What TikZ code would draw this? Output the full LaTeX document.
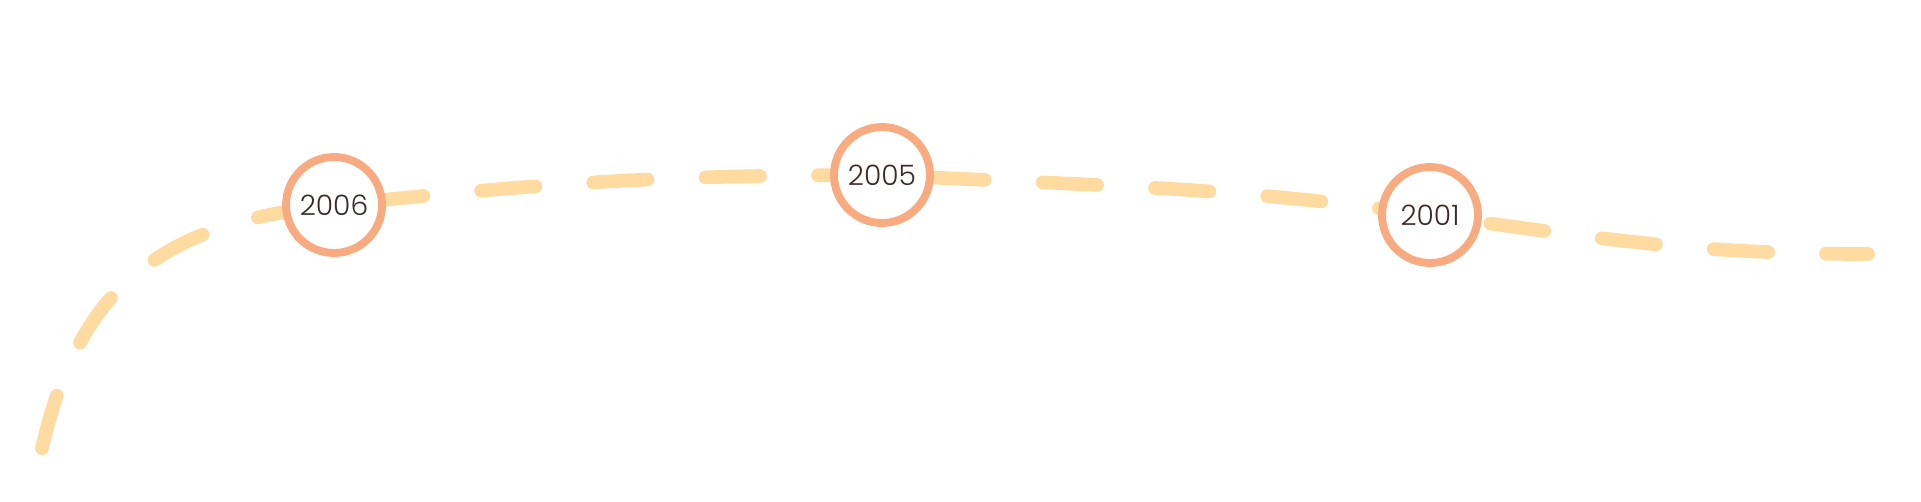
\documentclass[tikz,border=0pt]{standalone}
\usepackage{fontspec}
\setmainfont{Poppins Light}
\usepackage{xcolor}
\definecolor{peach}{HTML}{FFDBA1}
\definecolor{salmon}{HTML}{F8AB80}
\definecolor{cocoa}{HTML}{3B2A28}
\usetikzlibrary{backgrounds}

\begin{document}
\begin{tikzpicture}[x=0.02cm, y=0.02cm,
  trail/.style={draw=peach, line width=7.8pt, line cap=round,
    dash pattern=on 31pt off 33pt, dash phase=31pt},
  yearnode/.style={circle, draw=salmon, fill=white, line width=4.5pt, minimum size=1.92cm,
    inner sep=0pt, text=cocoa, font=\fontsize{16}{16}\selectfont}]
\useasboundingbox (0,0) rectangle (1921,501);
\coordinate (start) at (31,-4);
\coordinate (finish) at (1868,247);
\node[yearnode] (y2006) at (334,296) {2006};
\node[yearnode] (y2005) at (882,326) {2005};
\node[yearnode] (y2001) at (1430,286) {2001};
% dashed trail behind the year circles
\begin{pgfonlayer}{background}
\draw[trail] (start) to[out=81, in=186, looseness=1.2] (y2006.center)
  to[out=6, in=180] (y2005.center)
  to[out=-3, in=172] (y2001.center)
  to[out=-8, in=180] (finish);
\end{pgfonlayer}
\end{tikzpicture}
\end{document}
